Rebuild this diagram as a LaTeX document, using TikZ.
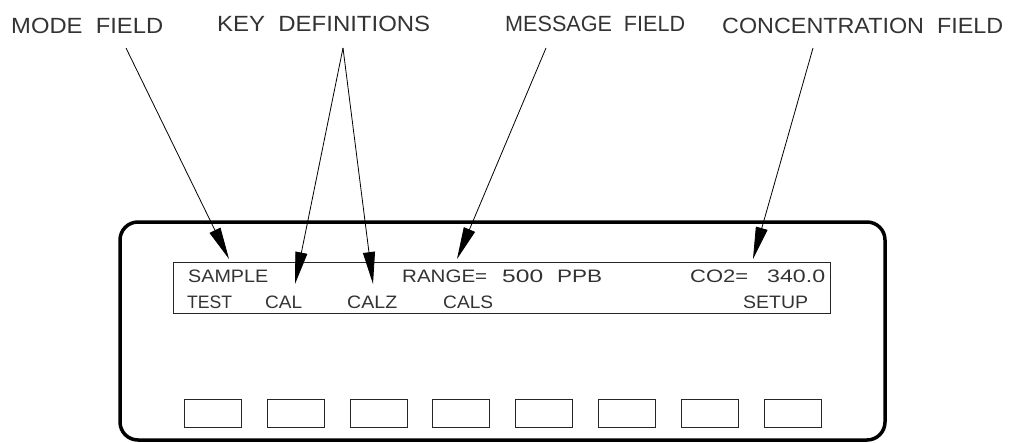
\documentclass[tikz,border=0pt]{standalone}
\usepackage{fontspec}
\setmainfont{Liberation Sans}
\usepackage{graphicx}
\usetikzlibrary{arrows.meta}
\newcommand{\fitw}[2]{\resizebox{#1pt}{\height}{#2}}
\tikzset{
  lbl/.style={anchor=base west, inner sep=0pt, text=black!80, font=\fontsize{22}{22}\selectfont},
  disp/.style={anchor=base west, inner sep=0pt, text=black!80, font=\fontsize{18}{18}\selectfont},
  pointer/.style={draw=black, line width=0.8pt, -{Triangle[length=32pt,width=12pt]}},
  panel/.style={draw=black, line width=3.5pt, rounded corners=18pt},
  screen/.style={draw=black!85, line width=1pt},
  keybtn/.style={draw=black!85, line width=1pt, minimum width=57pt, minimum height=28pt, inner sep=0pt, anchor=north west}
}
\begin{document}
\begin{tikzpicture}[x=1pt,y=-1pt]
\useasboundingbox (0,0) rectangle (1025,442);
% top labels
\node[lbl] (modelbl) at (11,33) {\fitw{152}{MODE\ \ FIELD}};
\node[lbl] (keylbl) at (217,31) {\fitw{213}{KEY\ \ DEFINITIONS}};
\node[lbl] (msglbl) at (505,31) {\fitw{180}{MESSAGE\ \ FIELD}};
\node[lbl] (conclbl) at (722,33) {\fitw{281}{CONCENTRATION\ \ FIELD}};
% panel and screen
\draw[panel] (120,222) rectangle (885,440);
\draw[screen] (173,262) rectangle (830,313);
% display text
\node[disp] (sample) at (188,282) {\fitw{80}{SAMPLE}};
\node[disp] (range) at (402,282) {\fitw{85}{RANGE=}};
\node[disp] (rval) at (502,282) {\fitw{41}{500}};
\node[disp] (ppb) at (557,282) {\fitw{45}{PPB}};
\node[disp] (co2) at (690,282) {\fitw{58}{CO2=}};
\node[disp] (cval) at (767,282) {\fitw{58}{340.0}};
\node[disp] (test) at (187,308) {\fitw{45}{TEST}};
\node[disp] (cal) at (265,308) {\fitw{37}{CAL}};
\node[disp] (calz) at (347,308) {\fitw{50}{CALZ}};
\node[disp] (cals) at (443,308) {\fitw{50}{CALS}};
\node[disp] (setup) at (743,308) {\fitw{65}{SETUP}};
% buttons
\foreach \i in {0,...,7}{
  \node[keybtn] (btn\i) at (184+82.8*\i,399) {};
}
% pointer coordinates
\coordinate (modestart) at (126,48);
\coordinate (keystart) at (343,48);
\coordinate (msgstart) at (546,48);
\coordinate (concstart) at (813,48);
\coordinate (modetip) at (229,259);
\coordinate (caltip) at (295,284);
\coordinate (calztip) at (373,284);
\coordinate (msgtip) at (457,259);
\coordinate (conctip) at (753,259);
\draw[pointer] (modestart) -- (modetip);
\draw[pointer] (keystart) -- (caltip);
\draw[pointer] (keystart) -- (calztip);
\draw[pointer] (msgstart) -- (msgtip);
\draw[pointer] (concstart) -- (conctip);
\end{tikzpicture}
\end{document}
